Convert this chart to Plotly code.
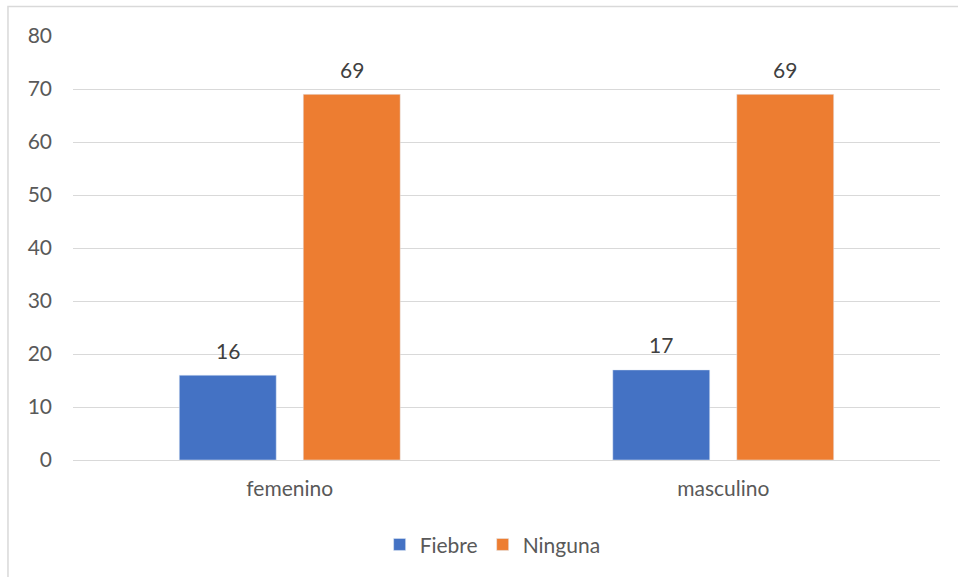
import plotly.graph_objects as go

# Chart data
categories = ["femenino", "masculino"]
fiebre = [16, 17]
ninguna = [69, 69]
y_ticks = [0, 10, 20, 30, 40, 50, 60, 70, 80]

BLUE = "#4472C4"
ORANGE = "#ED7D31"
FONT = "Lato"

fig = go.Figure()
fig.add_trace(go.Bar(name="Fiebre", x=categories, y=fiebre, marker_color=BLUE))
fig.add_trace(go.Bar(name="Ninguna", x=categories, y=ninguna, marker_color=ORANGE))

# Value labels above each bar (offset by half a bar slot within the group)
annotations = []
for series, shift in ((fiebre, -62), (ninguna, 62)):
    for cat, val in zip(categories, series):
        annotations.append(dict(
            x=cat, y=val, xref="x", yref="y", text=str(val), showarrow=False,
            xshift=shift, yshift=25, yanchor="middle",
            font=dict(family=FONT, size=21, color="#404040"),
        ))

fig.update_layout(
    width=958, height=577,
    margin=dict(l=73, r=18, t=36, b=117),
    paper_bgcolor="white", plot_bgcolor="white",
    barmode="group", bargap=0.428, bargroupgap=0.218,
    font=dict(family=FONT, size=21, color="#595959"),
    annotations=annotations,
    showlegend=True,
    legend=dict(orientation="h", x=0.484, xanchor="center", y=-0.2, yanchor="middle",
                font=dict(family=FONT, size=21, color="#595959")),
    xaxis=dict(showgrid=False, showline=False, zeroline=False, ticklabelstandoff=14),
    yaxis=dict(range=[0, 80], tickvals=y_ticks, showgrid=True, gridcolor="#D9D9D9",
               gridwidth=1, zeroline=True, zerolinecolor="#D9D9D9", zerolinewidth=1,
               showline=False, ticklabelstandoff=20),
    shapes=[dict(type="rect", xref="paper", yref="paper", x0=-0.075, y0=-0.4,
                 x1=1.1, y1=1.0695, line=dict(color="#D9D9D9", width=1.5),
                 fillcolor="rgba(0,0,0,0)", layer="below")],
)

fig.write_html("out.html")
